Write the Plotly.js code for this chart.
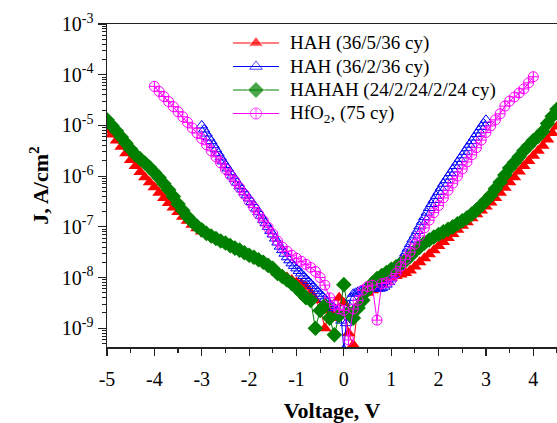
<!DOCTYPE html>
<html>
<head>
<meta charset="utf-8">
<script src="https://cdn.plot.ly/plotly-3.0.1.min.js"></script>
<style>html,body{margin:0;padding:0;background:#fff;}#chart{width:557px;height:423px;}</style>
</head>
<body>
<div id="chart"></div>
<script>
// Voltage grids (V)
var voltage_HAH_36_5_36 = [-5.0,-4.9,-4.8,-4.7,-4.6,-4.5,-4.4,-4.3,-4.2,-4.1,-4.0,-3.9,-3.8,-3.7,-3.6,-3.5,-3.4,-3.3,-3.2,-3.1,-3.0,-2.9,-2.8,-2.7,-2.6,-2.5,-2.4,-2.3,-2.2,-2.1,-2.0,-1.9,-1.8,-1.7,-1.6,-1.5,-1.4,-1.3,-1.2,-1.1,-1.0,-0.9,-0.8,-0.7,-0.6,-0.5,-0.4,-0.3,-0.2,-0.1,0.0,0.1,0.2,0.3,0.4,0.5,0.6,0.7,0.8,0.9,1.0,1.1,1.2,1.3,1.4,1.5,1.6,1.7,1.8,1.9,2.0,2.1,2.2,2.3,2.4,2.5,2.6,2.7,2.8,2.9,3.0,3.1,3.2,3.3,3.4,3.5,3.6,3.7,3.8,3.9,4.0,4.1,4.2,4.3,4.4,4.5];
var voltage_HAHAH = [-5.0,-4.9,-4.8,-4.7,-4.6,-4.5,-4.4,-4.3,-4.2,-4.1,-4.0,-3.9,-3.8,-3.7,-3.6,-3.5,-3.4,-3.3,-3.2,-3.1,-3.0,-2.9,-2.8,-2.7,-2.6,-2.5,-2.4,-2.3,-2.2,-2.1,-2.0,-1.9,-1.8,-1.7,-1.6,-1.5,-1.4,-1.3,-1.2,-1.1,-1.0,-0.9,-0.8,-0.7,-0.6,-0.5,-0.4,-0.3,-0.2,-0.1,0.0,0.1,0.2,0.3,0.4,0.5,0.6,0.7,0.8,0.9,1.0,1.1,1.2,1.3,1.4,1.5,1.6,1.7,1.8,1.9,2.0,2.1,2.2,2.3,2.4,2.5,2.6,2.7,2.8,2.9,3.0,3.1,3.2,3.3,3.4,3.5,3.6,3.7,3.8,3.9,4.0,4.1,4.2,4.3,4.4,4.5];
var voltage_HAH_36_2_36 = [-3.00,-2.95,-2.90,-2.85,-2.80,-2.75,-2.70,-2.65,-2.60,-2.55,-2.50,-2.45,-2.40,-2.35,-2.30,-2.25,-2.20,-2.15,-2.10,-2.05,-2.00,-1.95,-1.90,-1.85,-1.80,-1.75,-1.70,-1.65,-1.60,-1.55,-1.50,-1.45,-1.40,-1.35,-1.30,-1.25,-1.20,-1.15,-1.10,-1.05,-1.00,-0.95,-0.90,-0.85,-0.80,-0.75,-0.70,-0.65,-0.60,-0.55,-0.50,-0.45,-0.40,-0.35,-0.30,-0.25,-0.20,-0.15,-0.10,-0.05,0.00,0.05,0.10,0.15,0.20,0.25,0.30,0.35,0.40,0.45,0.50,0.55,0.60,0.65,0.70,0.75,0.80,0.85,0.90,0.95,1.00,1.05,1.10,1.15,1.20,1.25,1.30,1.35,1.40,1.45,1.50,1.55,1.60,1.65,1.70,1.75,1.80,1.85,1.90,1.95,2.00,2.05,2.10,2.15,2.20,2.25,2.30,2.35,2.40,2.45,2.50,2.55,2.60,2.65,2.70,2.75,2.80,2.85,2.90,2.95,3.00];
var voltage_HfO2 = [-4.0,-3.9,-3.8,-3.7,-3.6,-3.5,-3.4,-3.3,-3.2,-3.1,-3.0,-2.9,-2.8,-2.7,-2.6,-2.5,-2.4,-2.3,-2.2,-2.1,-2.0,-1.9,-1.8,-1.7,-1.6,-1.5,-1.4,-1.3,-1.2,-1.1,-1.0,-0.9,-0.8,-0.7,-0.6,-0.5,-0.4,-0.3,-0.2,-0.1,0.0,0.1,0.2,0.3,0.4,0.5,0.6,0.7,0.8,0.9,1.0,1.1,1.2,1.3,1.4,1.5,1.6,1.7,1.8,1.9,2.0,2.1,2.2,2.3,2.4,2.5,2.6,2.7,2.8,2.9,3.0,3.1,3.2,3.3,3.4,3.5,3.6,3.7,3.8,3.9,4.0];

// Current density, read as log10(J in A/cm^2)
var log10J_HAH_36_5_36 = [-5.10,-5.18,-5.30,-5.42,-5.55,-5.68,-5.80,-5.92,-6.02,-6.12,-6.22,-6.33,-6.43,-6.53,-6.62,-6.71,-6.80,-6.88,-6.96,-7.03,-7.09,-7.14,-7.19,-7.23,-7.28,-7.32,-7.37,-7.42,-7.47,-7.52,-7.57,-7.60,-7.66,-7.70,-7.76,-7.82,-7.90,-7.95,-8.00,-8.05,-8.10,
  -8.12,-8.18,-8.30,-8.45,-8.60,-9.00,-8.65,-8.80,-8.40,-8.50,-9.10,-9.33,-8.55,-8.40,-8.30,-8.25,-8.18,-8.12,-8.06,
  -8.00,-7.97,-7.94,-7.91,-7.86,-7.78,-7.70,-7.62,-7.54,-7.46,-7.38,-7.30,-7.22,-7.14,-7.06,-6.98,-6.91,-6.83,-6.75,-6.68,-6.60,-6.52,-6.43,-6.33,-6.23,-6.12,-6.02,-5.91,-5.80,-5.70,-5.60,-5.50,-5.40,-5.28,-5.15,-5.02];
var log10J_HAHAH = [-4.89,-5.00,-5.11,-5.23,-5.35,-5.47,-5.58,-5.66,-5.74,-5.83,-5.93,-6.03,-6.15,-6.27,-6.40,-6.55,-6.68,-6.80,-6.90,-6.99,-7.06,-7.13,-7.18,-7.23,-7.28,-7.32,-7.37,-7.42,-7.46,-7.51,-7.56,-7.60,-7.65,-7.70,-7.76,-7.82,-7.92,-7.98,-8.05,-8.12,-8.20,
  -8.30,-8.40,-8.45,-9.00,-8.65,-8.55,-8.80,-9.13,-8.75,-8.14,-8.70,-8.80,-8.60,-8.45,-8.25,-8.12,-8.02,-7.96,-7.90,
  -7.84,-7.79,-7.73,-7.67,-7.58,-7.48,-7.40,-7.32,-7.26,-7.20,-7.15,-7.10,-7.05,-7.00,-6.94,-6.88,-6.82,-6.75,-6.67,-6.58,-6.48,-6.38,-6.25,-6.12,-5.98,-5.84,-5.73,-5.62,-5.50,-5.40,-5.30,-5.22,-5.12,-4.96,-4.82,-4.68];
var log10J_HAH_36_2_36 = [-5.00,-5.08,-5.16,-5.24,-5.31,-5.39,-5.47,-5.55,-5.63,-5.71,-5.78,-5.85,-5.92,-5.99,-6.06,-6.13,-6.20,-6.26,-6.32,-6.38,-6.44,-6.51,-6.57,-6.64,-6.71,-6.78,-6.86,-6.93,-7.00,-7.08,-7.15,-7.23,-7.31,-7.39,-7.46,-7.53,-7.60,-7.66,-7.72,-7.77,-7.82,-7.87,-7.92,-7.97,-8.02,-8.07,-8.12,-8.17,-8.22,-8.27,-8.32,-8.37,-8.42,-8.47,-8.52,-8.56,-8.60,-8.66,-8.72,-8.85,
  -9.42,
  -8.90,-8.55,-8.40,-8.32,-8.30,-8.28,-8.26,-8.24,-8.22,-8.21,-8.20,-8.20,-8.21,-8.22,-8.22,-8.21,-8.18,-8.14,-8.09,-8.02,-7.95,-7.87,-7.79,-7.70,-7.61,-7.52,-7.43,-7.34,-7.25,-7.17,-7.08,-6.99,-6.90,-6.81,-6.72,-6.63,-6.55,-6.47,-6.39,-6.31,-6.23,-6.15,-6.08,-6.01,-5.94,-5.87,-5.80,-5.73,-5.66,-5.59,-5.52,-5.45,-5.38,-5.31,-5.24,-5.17,-5.10,-5.03,-4.96,-4.89];
var log10J_HfO2 = [-4.23,-4.33,-4.43,-4.53,-4.63,-4.73,-4.83,-4.94,-5.05,-5.15,-5.26,-5.38,-5.50,-5.62,-5.74,-5.86,-5.98,-6.10,-6.23,-6.36,-6.49,-6.62,-6.75,-6.88,-7.01,-7.14,-7.28,-7.40,-7.48,-7.56,-7.62,
  -7.68,-7.74,-7.80,-7.88,-8.00,-8.15,-8.40,-8.55,-8.62,-8.65,-9.23,-8.62,-8.45,-8.25,-8.18,-8.15,-8.84,-8.12,-8.10,
  -8.05,-7.92,-7.78,-7.64,-7.50,-7.34,-7.18,-7.02,-6.87,-6.72,-6.58,-6.43,-6.28,-6.14,-6.00,-5.86,-5.72,-5.58,-5.44,-5.29,-5.14,-5.01,-4.89,-4.77,-4.62,-4.52,-4.44,-4.36,-4.28,-4.16,-4.04];

var seriesNames = ['HAH (36/5/36 cy)', 'HAH (36/2/36 cy)', 'HAHAH (24/2/24/2/24 cy)', 'HfO<sub>2</sub>, (75 cy)'];
var xTickValues = [-5, -4, -3, -2, -1, 0, 1, 2, 3, 4];
var xTickLabels = ['-5', '-4', '-3', '-2', '-1', '0', '1', '2', '3', '4'];
var yTickExponents = [-9, -8, -7, -6, -5, -4, -3];

function toJ(arr) { return arr.map(function (v) { return Math.pow(10, v); }); }

var styles = [
  {line: {color: '#ff0000', width: 1}, marker: {symbol: 'triangle-up', size: 12, color: '#ff0000'}},
  {line: {color: '#0000ff', width: 1}, marker: {symbol: 'triangle-up-open', size: 10, color: '#0000ff', line: {width: 1}}},
  {line: {color: '#008000', width: 1}, marker: {symbol: 'diamond', size: 12, color: '#008000'}},
  {line: {color: '#ff00ff', width: 1}, marker: {symbol: 'circle-cross-open', size: 10, color: '#ff00ff', line: {width: 1}}}
];
var xs = [voltage_HAH_36_5_36, voltage_HAH_36_2_36, voltage_HAHAH, voltage_HfO2];
var ys = [log10J_HAH_36_5_36, log10J_HAH_36_2_36, log10J_HAHAH, log10J_HfO2];

var traces = [];
for (var s = 0; s < 4; s++) {
  traces.push({x: xs[s], y: toJ(ys[s]), name: seriesNames[s], mode: 'lines+markers', showlegend: false,
               line: styles[s].line, marker: styles[s].marker, xaxis: 'x', yaxis: 'y'});
}

// Hand-built legend on a hidden overlay axis measured in pixels
var legendRowPx = [43, 66.5, 90, 113.5];
var legendLineStart = 233, legendLineEnd = 279, legendTextX = 288;
var annotations = [];
for (var r = 0; r < 4; r++) {
  var m = JSON.parse(JSON.stringify(styles[r].marker));
  m.size = [0, m.size + 1, 0];
  traces.push({x: [legendLineStart, (legendLineStart + legendLineEnd) / 2, legendLineEnd],
               y: [legendRowPx[r], legendRowPx[r], legendRowPx[r]],
               mode: 'lines+markers', showlegend: false, hoverinfo: 'skip',
               line: styles[r].line, marker: m, xaxis: 'x2', yaxis: 'y2', cliponaxis: false});
  annotations.push({xref: 'x2', yref: 'y2', x: legendTextX, y: legendRowPx[r], xanchor: 'left', yanchor: 'middle',
                    text: seriesNames[r], showarrow: false,
                    font: {family: '"Liberation Serif", serif', size: 19, color: '#000'}});
}

var xMinor = [];
for (var i = 0; i < xTickValues.length; i++) xMinor.push(xTickValues[i] + 0.5);
var yTickVals = yTickExponents.map(function (e) { return Math.pow(10, e); });
var yTickText = yTickExponents.map(function (e) { return '10<sup>' + e + '</sup>'; });
var yMinor = [];
for (var d = -10; d <= -4; d++) for (var k = 2; k <= 9; k++) yMinor.push(k * Math.pow(10, d));

var font = '"Liberation Serif", serif';
var layout = {
  width: 557, height: 423,
  margin: {l: 107, r: 0, t: 24, b: 76},
  paper_bgcolor: '#ffffff', plot_bgcolor: '#ffffff',
  font: {family: font, color: '#000000', size: 20},
  showlegend: false,
  annotations: annotations,
  xaxis: {
    range: [-5, 4.5], tickmode: 'array', tickvals: xTickValues, ticktext: xTickLabels,
    ticks: 'outside', ticklen: 7, tickwidth: 1.2, tickcolor: '#222', ticklabelstandoff: 6,
    minor: {tickmode: 'array', tickvals: xMinor, ticks: 'outside', ticklen: 4, tickwidth: 1.2, tickcolor: '#222', showgrid: false},
    showline: true, linecolor: '#222', linewidth: 1.5, mirror: true,
    showgrid: false, zeroline: false,
    tickfont: {family: font, size: 20, color: '#000'},
    title: {text: '<b>Voltage, V</b>', font: {family: font, size: 22, color: '#000'}, standoff: 20}
  },
  yaxis: {
    type: 'log', range: [-9.37, -3], tickmode: 'array', tickvals: yTickVals, ticktext: yTickText,
    ticks: 'outside', ticklen: 8, tickwidth: 1.2, tickcolor: '#222',
    minor: {tickmode: 'array', tickvals: yMinor, ticks: 'outside', ticklen: 4, tickwidth: 1, tickcolor: '#222', showgrid: false},
    showline: true, linecolor: '#222', linewidth: 1.5, mirror: true,
    showgrid: false, zeroline: false,
    tickfont: {family: font, size: 20, color: '#000'},
    title: {text: '<b>J, A/cm<sup>2</sup></b>', font: {family: font, size: 22, color: '#000'}, standoff: 7}
  },
  xaxis2: {overlaying: 'x', anchor: 'y2', range: [107, 557], visible: false, fixedrange: true},
  yaxis2: {overlaying: 'y', anchor: 'x2', range: [347, 24], visible: false, fixedrange: true}
};

Plotly.newPlot('chart', traces, layout, {displayModeBar: false, staticPlot: true});
</script>
</body>
</html>
